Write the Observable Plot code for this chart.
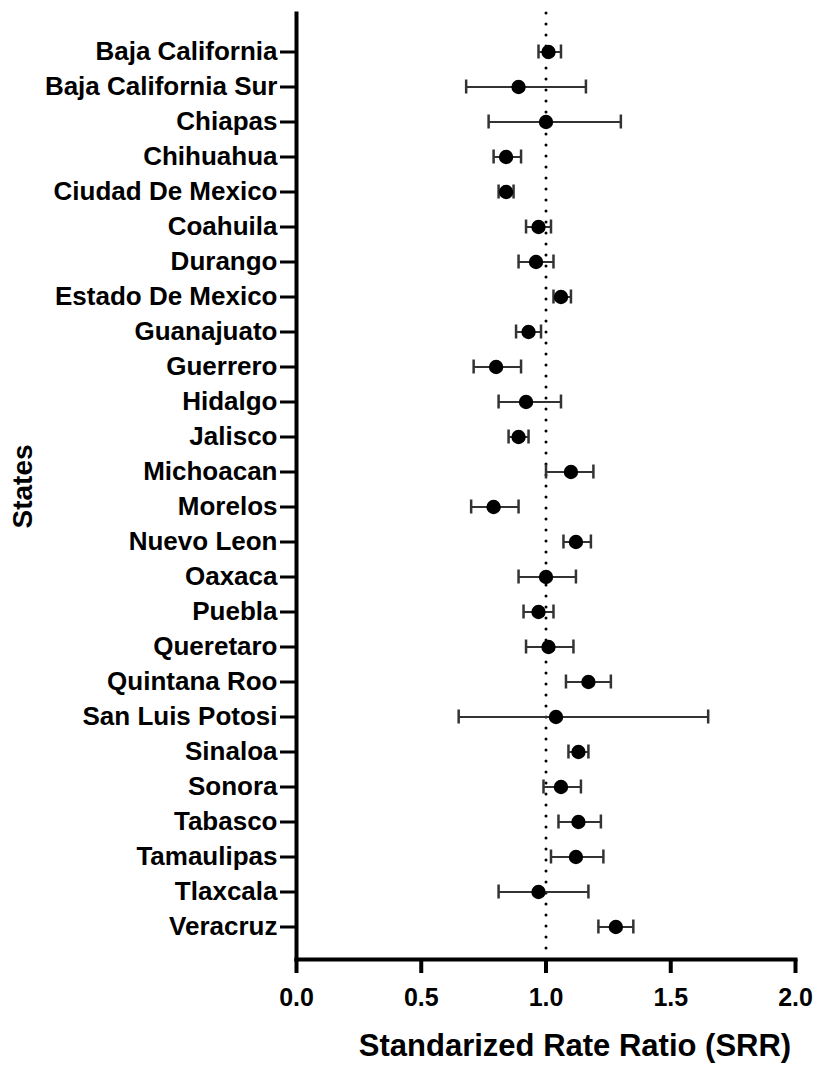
<!DOCTYPE html>
<html>
<head>
<meta charset="utf-8">
<script src="https://cdn.jsdelivr.net/npm/d3@7"></script>
<script src="https://cdn.jsdelivr.net/npm/@observablehq/plot@0.6"></script>
<style>
  html, body { margin: 0; padding: 0; background: white; }
</style>
</head>
<body>
<div id="chart"></div>
<script>
const states = [
  "Baja California", "Baja California Sur", "Chiapas", "Chihuahua", "Ciudad De Mexico",
  "Coahuila", "Durango", "Estado De Mexico", "Guanajuato", "Guerrero",
  "Hidalgo", "Jalisco", "Michoacan", "Morelos", "Nuevo Leon",
  "Oaxaca", "Puebla", "Queretaro", "Quintana Roo", "San Luis Potosi",
  "Sinaloa", "Sonora", "Tabasco", "Tamaulipas", "Tlaxcala", "Veracruz"
];
const srr = [
  1.01, 0.89, 1.00, 0.84, 0.84,
  0.97, 0.96, 1.06, 0.93, 0.80,
  0.92, 0.89, 1.10, 0.79, 1.12,
  1.00, 0.97, 1.01, 1.17, 1.04,
  1.13, 1.06, 1.13, 1.12, 0.97, 1.28
];
const lower = [
  0.97, 0.68, 0.77, 0.79, 0.81,
  0.92, 0.89, 1.03, 0.88, 0.71,
  0.81, 0.85, 1.00, 0.70, 1.07,
  0.89, 0.91, 0.92, 1.08, 0.65,
  1.09, 0.99, 1.05, 1.02, 0.81, 1.21
];
const upper = [
  1.06, 1.16, 1.30, 0.90, 0.87,
  1.02, 1.03, 1.10, 0.98, 0.90,
  1.06, 0.93, 1.19, 0.89, 1.18,
  1.12, 1.03, 1.11, 1.26, 1.65,
  1.17, 1.14, 1.22, 1.23, 1.17, 1.35
];
const xTicks = [0, 0.5, 1, 1.5, 2];
const referenceLine = [1];
const yTitle = ["States"];
const xTitle = ["Standarized Rate Ratio (SRR)"];

const data = states.map((s, i) => ({state: s, srr: srr[i], lo: lower[i], hi: upper[i]}));

const chart = Plot.plot({
  width: 813,
  height: 1066,
  marginLeft: 296,
  marginRight: 18,
  marginTop: 13,
  marginBottom: 107,
  style: {
    fontFamily: "'Liberation Sans', Arial, sans-serif",
    fontWeight: "bold",
    fontSize: "26px",
    color: "black",
    background: "white"
  },
  x: {domain: [0, 2]},
  y: {type: "band", domain: states, padding: 0, insetTop: 9, insetBottom: 4},
  marks: [
    Plot.ruleX(referenceLine, {stroke: "black", strokeWidth: 3, strokeDasharray: "0 11", strokeLinecap: "round"}),
    Plot.ruleY(data, {y: "state", x1: "lo", x2: "hi", stroke: "#333", strokeWidth: 2}),
    Plot.tickX(data, {x: "lo", y: "state", stroke: "#333", strokeWidth: 2.5, insetTop: 10.5, insetBottom: 10.5}),
    Plot.tickX(data, {x: "hi", y: "state", stroke: "#333", strokeWidth: 2.5, insetTop: 10.5, insetBottom: 10.5}),
    Plot.dot(data, {x: "srr", y: "state", r: 7.2, fill: "black", stroke: "none"}),
    Plot.axisY({tickSize: 16, tickPadding: 3, strokeWidth: 3, fontSize: 26, label: null, stroke: "black"}),
    Plot.axisX({ticks: xTicks, tickFormat: d3.format(".1f"), tickSize: 14, tickPadding: 15, strokeWidth: 4, fontSize: 25, label: null, stroke: "black"}),
    Plot.frame({anchor: "left", strokeWidth: 4, stroke: "black"}),
    Plot.frame({anchor: "bottom", strokeWidth: 4, stroke: "black"}),
    Plot.text(yTitle, {frameAnchor: "left", dx: -273, rotate: -90, textAnchor: "middle", lineAnchor: "middle", fontSize: 28, fill: "black"}),
    Plot.text(xTitle, {frameAnchor: "bottom", dx: 29, dy: 87, textAnchor: "middle", lineAnchor: "middle", fontSize: 31, fill: "black"})
  ]
});
document.getElementById("chart").appendChild(chart);
</script>
</body>
</html>
